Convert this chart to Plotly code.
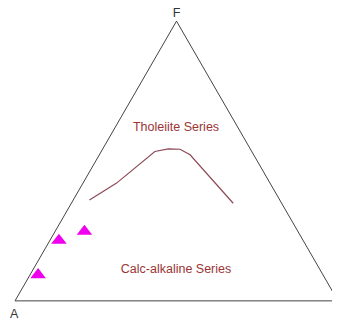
import plotly.graph_objects as go

# AFM diagram: a = F (top), b = A (bottom-left), c = M (bottom-right)
sample_F = [0.093, 0.216, 0.248]
sample_A = [0.882, 0.756, 0.661]
sample_M = [0.025, 0.028, 0.091]

# Tholeiite / calc-alkaline dividing line
line_F = [0.361, 0.421, 0.534, 0.5435, 0.542, 0.522, 0.349]
line_A = [0.589, 0.475, 0.300, 0.2535, 0.218, 0.197, 0.150]
line_M = [0.050, 0.104, 0.166, 0.203, 0.240, 0.281, 0.501]

label_text = ["Tholeiite Series", "Calc-alkaline Series"]
label_F = [0.6185, 0.111]
label_A = [0.192, 0.446]
label_M = [0.189, 0.443]

fig = go.Figure()

fig.add_trace(go.Scatterternary(
    a=line_F, b=line_A, c=line_M,
    mode="lines",
    line=dict(color="#8c4b57", width=1.2),
    hoverinfo="skip"))

fig.add_trace(go.Scatterternary(
    a=label_F, b=label_A, c=label_M,
    mode="text",
    text=label_text,
    textfont=dict(family="Liberation Sans, Arial", size=12.5, color="#9b3535"),
    hoverinfo="skip"))

fig.add_trace(go.Scatterternary(
    a=sample_F, b=sample_A, c=sample_M,
    mode="markers",
    marker=dict(symbol="triangle-up", size=13.5, color="#ee00ee", line=dict(width=0))))

title_font = dict(family="Liberation Sans, Arial", size=12.5, color="#333333")
axis = dict(
    showticklabels=False, ticks="", showgrid=False,
    linecolor="#444444", linewidth=1)

# page body has an 8px margin, so the domain is shifted up/left by 8px
fig.update_layout(
    width=340, height=323,
    margin=dict(l=0, r=0, t=0, b=0),
    paper_bgcolor="white",
    showlegend=False,
    ternary=dict(
        domain=dict(x=[7 / 340, 330 / 340], y=[30 / 323, 310 / 323]),
        bgcolor="white",
        sum=1,
        aaxis=dict(axis, title=dict(text="F", font=title_font)),
        baxis=dict(axis, title=dict(text="")),
        caxis=dict(axis, title=dict(text=""))))

# corner labels A and M sit right under their vertices
fig.add_annotation(text="A", x=0.0197, y=0.0526, xref="paper", yref="paper",
                   xanchor="center", yanchor="middle", showarrow=False, font=title_font)
fig.add_annotation(text="M", x=0.9676, y=0.0573, xref="paper", yref="paper",
                   xanchor="center", yanchor="middle", showarrow=False, font=title_font)

fig.write_html("out.html")
